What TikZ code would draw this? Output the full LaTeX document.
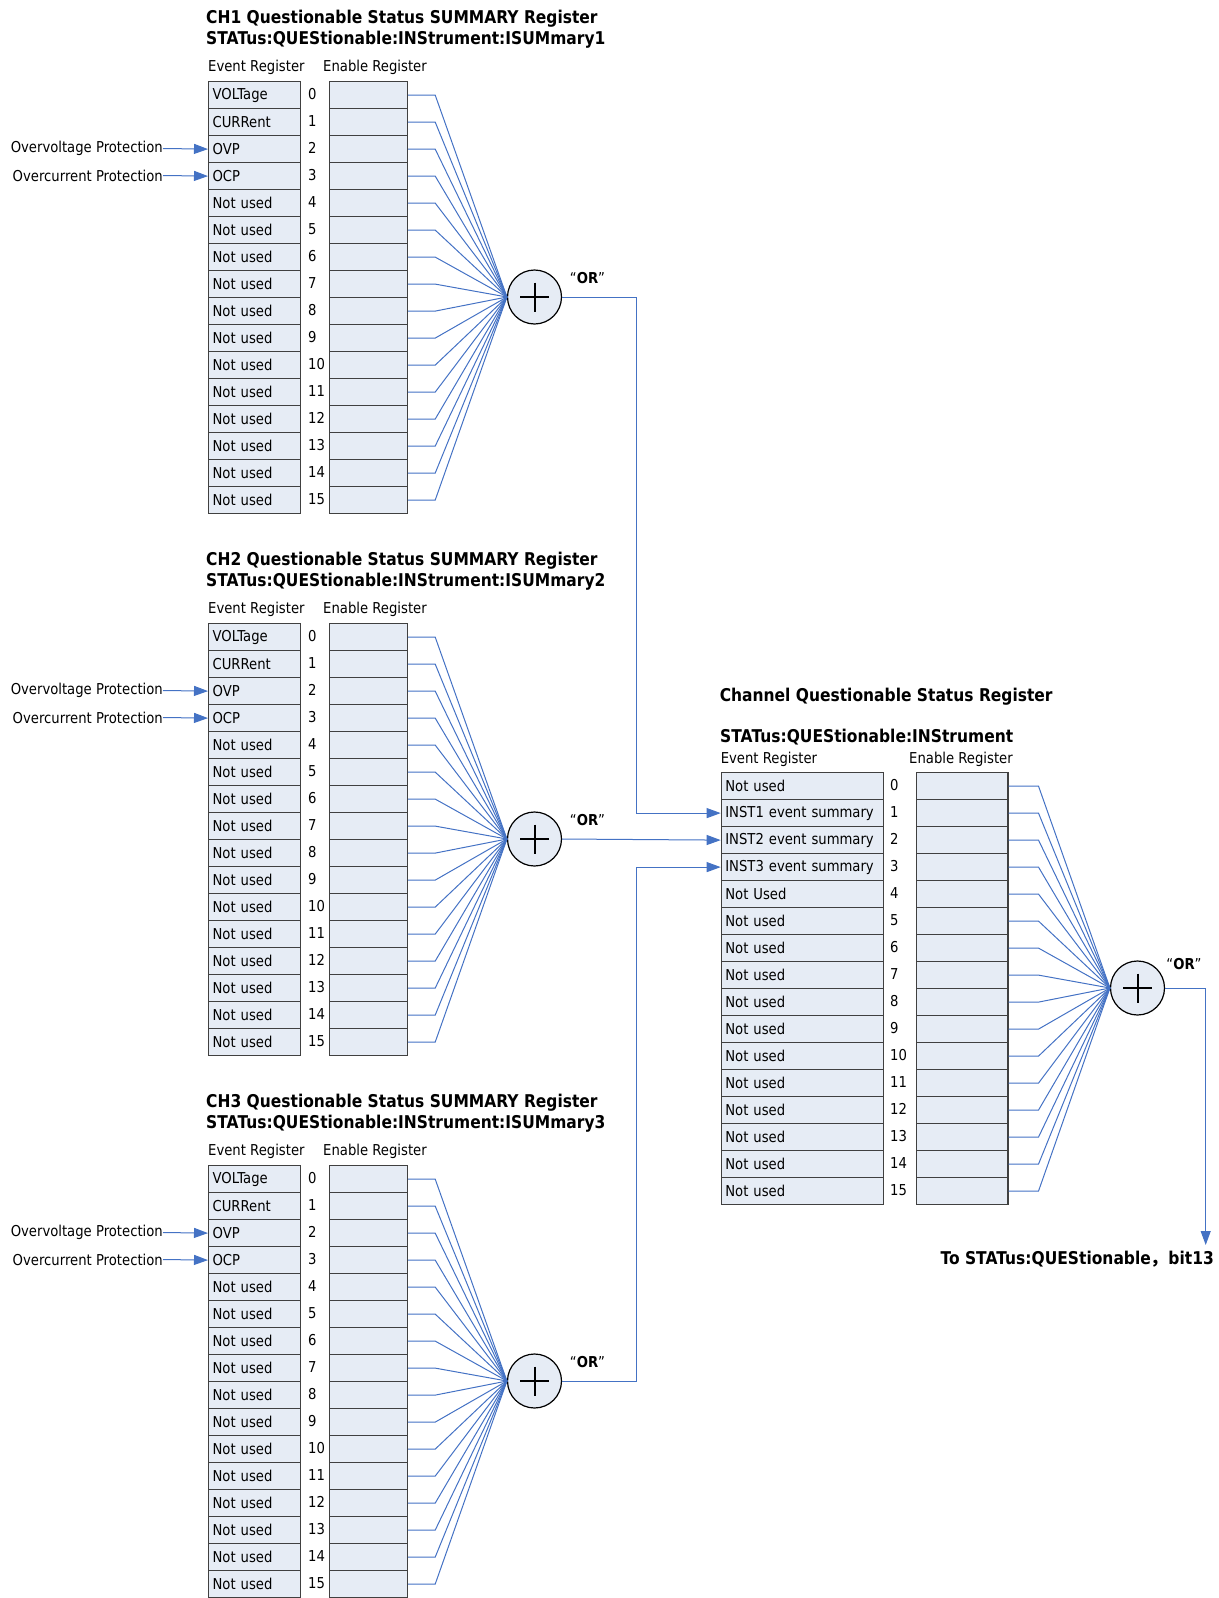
\documentclass[tikz,border=0pt]{standalone}
\usepackage{fontspec}
\setmainfont{DejaVu Sans}[FakeStretch=0.88]
\newfontfamily\cjk{Noto Sans CJK SC}
\usetikzlibrary{shapes,arrows.meta,positioning}
\definecolor{regfill}{RGB}{230,236,245}
\definecolor{wireblue}{RGB}{68,114,196}
\tikzset{
  cell/.style={draw=black!75, line width=1.2pt, fill=regfill, minimum height=27pt, inner ysep=0pt, anchor=north west},
  evcell/.style={cell, text width=84pt, inner xsep=4pt, align=left},
  encell/.style={cell, minimum width=78pt, inner sep=0pt},
  txt/.style={inner sep=0pt, anchor=west},
  ttl/.style={txt, font=\fontsize{17.6}{20}\selectfont\bfseries},
  wire/.style={draw=wireblue, line width=1pt},
  arr/.style={wire, -{Triangle[length=14pt,width=10pt]}},
  orgate/.style={circle, draw=black, line width=1.2pt, fill=regfill, minimum size=54pt, inner sep=0pt},
}
\begin{document}
\begin{tikzpicture}[x=1pt,y=-1pt,font=\fontsize{15}{18}\selectfont]
\useasboundingbox (0,0) rectangle (1218,1598);

%CH summary registers
\foreach \c/\y in {1/81,2/623,3/1165}{
  \node[ttl] (title\c) at (206,\y-62) {CH\c{} Questionable Status SUMMARY Register};
  \node[ttl] (addr\c) at (206,\y-41.5) {STATus:QUEStionable:INStrument:ISUMmary\c};
  \node[txt] (evhd\c) at (208,\y-14) {Event Register};
  \node[txt] (enhd\c) at (323,\y-14) {Enable Register};
  \foreach \i/\t in {0/VOLTage,1/CURRent,2/OVP,3/OCP}
    \node[evcell] (ev\c-\i) at (208,\y+27*\i) {\t};
  \foreach \i in {4,...,15}
    \node[evcell] (ev\c-\i) at (208,\y+27*\i) {Not used};
  \foreach \i in {0,...,15}{
    \node[txt] (num\c-\i) at (308,\y+13+27*\i) {\i};
    \node[encell] (en\c-\i) at (329,\y+27*\i) {};
  }
  % OR gate
  \node[orgate] (or\c) at (534.5,\y+216) {};
  \draw[line width=2pt] (or\c.center) +(-14.5,0) -- +(14.5,0) (or\c.center) +(0,-14.5) -- +(0,14.5);
  \foreach \i in {0,...,15}
    \draw[wire] (en\c-\i.east) -- ++(27,0) -- (or\c.west);
  \node (orlbl\c) at ([shift={(53,-19)}]or\c.center) {“\textbf{OR}”};
  % inputs
  \node[txt,anchor=east] (ovp\c) at (163,\y+67.5) {Overvoltage Protection};
  \node[txt,anchor=east] (ocp\c) at (163,\y+94.5) {Overcurrent Protection};
  \draw[arr] (ovp\c.east) -- (ev\c-2.west);
  \draw[arr] (ocp\c.east) -- (ev\c-3.west);
}

%Channel register
\node[ttl] (chtitle) at (719.6,697) {Channel Questionable Status Register};
\node[ttl] (chaddr) at (720,737.5) {STATus:QUEStionable:INStrument};
\node[txt] (chevhd) at (720.6,759) {Event Register};
\node[txt] (chenhd) at (909,759) {Enable Register};
\foreach \i/\t in {0/Not used,1/INST1 event summary,2/INST2 event summary,3/INST3 event summary,4/Not Used}
  \node[evcell,text width=154pt] (chev\i) at (720.7,772+27*\i) {\t};
\foreach \i in {5,...,15}
  \node[evcell,text width=154pt] (chev\i) at (720.7,772+27*\i) {Not used};
\foreach \i in {0,...,15}{
  \node[txt] (chnum\i) at (890,785+27*\i) {\i};
  \node[encell,minimum width=91.6pt] (chen\i) at (915.7,772+27*\i) {};
}
\node[orgate] (chor) at (1137.5,988) {};
\draw[line width=2pt] (chor.center) +(-14.5,0) -- +(14.5,0) (chor.center) +(0,-14.5) -- +(0,14.5);
\foreach \i in {0,...,15}
  \draw[wire] (chen\i.east) -- ++(30,0) -- (chor.west);
\node (chorlbl) at ([shift={(46.5,-24)}]chor.center) {“\textbf{OR}”};

% summaries into channel register
\coordinate (bend1) at (636,297);
\coordinate (bend3) at (636,1381);
\draw[arr] (or1.east) -- (bend1) |- (chev1.west);
\draw[arr] (or2.east) -- (chev2.west);
\draw[arr] (or3.east) -- (bend3) |- (chev3.west);

% output
\coordinate (chbend) at (1205.7,988);
\coordinate (chout) at (1205.7,1245);
\draw[arr] (chor.east) -- (chbend) -- (chout);
\node[ttl,anchor=east] (tolbl) at (1214,1259) {To STATus:QUEStionable{\cjk ，}bit13};

\end{tikzpicture}
\end{document}
